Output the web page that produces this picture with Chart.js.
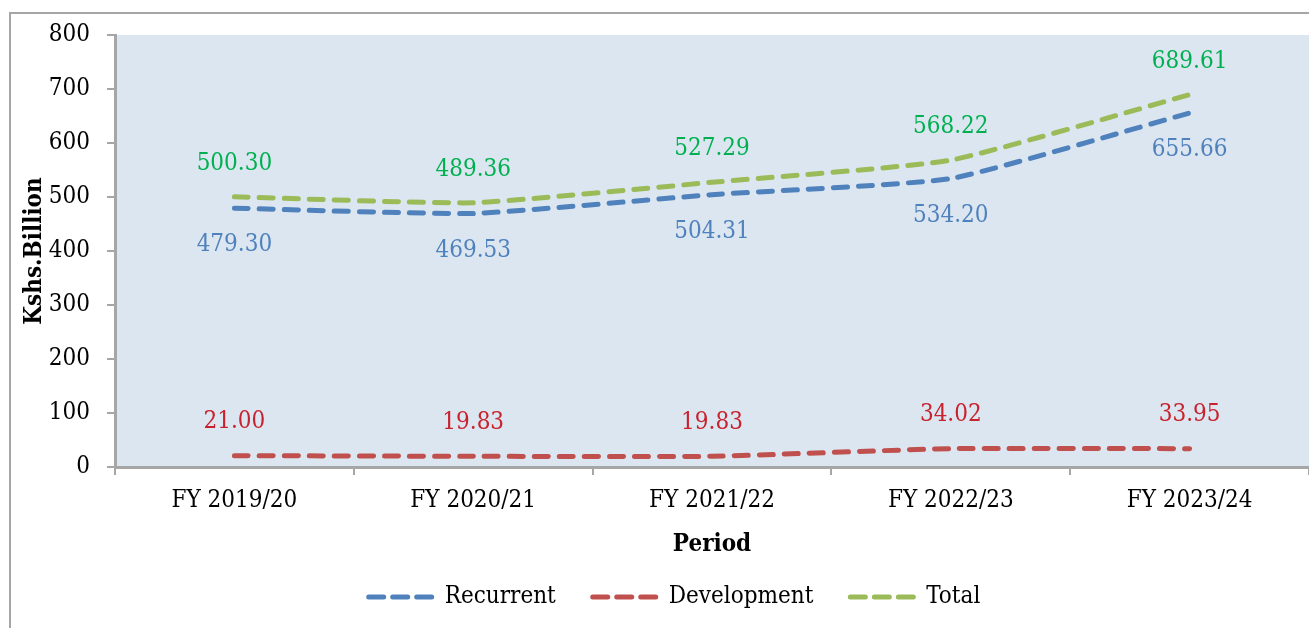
<!DOCTYPE html>
<html>
<head>
<meta charset="utf-8">
<script src="https://cdn.jsdelivr.net/npm/chart.js@4.4.1/dist/chart.umd.min.js"></script>
<style>
  html, body { margin: 0; padding: 0; background: #fff; overflow: hidden; }
  #frame { position: absolute; left: 9px; top: 12px; width: 1400px; height: 700px; border: 2px solid #a6a6a6; }
  #wrap { position: absolute; left: 0; top: 0; width: 1309px; height: 628px; }
</style>
</head>
<body>
<div id="frame"></div>
<div id="wrap"><canvas id="spendChart"></canvas></div>
<script>
// Data
const periods = ['FY 2019/20', 'FY 2020/21', 'FY 2021/22', 'FY 2022/23', 'FY 2023/24'];
const recurrent = [479.30, 469.53, 504.31, 534.20, 655.66];
const development = [21.00, 19.83, 19.83, 34.02, 33.95];
const total = [500.30, 489.36, 527.29, 568.22, 689.61];

// Styles
const fontFamily = "'DejaVu Serif Condensed', 'DejaVu Serif', serif";
const fontSize = 24;
const lineWidth = 5;
const lineDash = [14, 11];
const plotBg = '#dce6f0';
const axisGrey = '#a6a6a6';

Chart.defaults.font.family = fontFamily;
Chart.defaults.font.size = fontSize;
Chart.defaults.color = '#000';

// Fill the plot area
const plotBackground = {
  id: 'plotBackground',
  beforeDraw(chart) {
    const {ctx, chartArea: a} = chart;
    ctx.save();
    ctx.fillStyle = plotBg;
    ctx.fillRect(a.left, a.top, a.right - a.left, a.bottom - a.top);
    ctx.restore();
  }
};

// nudge legend a bit right, like the original
const legendShift = {
  id: 'legendShift',
  afterLayout(chart) {
    if (chart.legend) chart.legend.left += 28;
  }
};

// Value labels next to each point
const valueLabels = {
  id: 'valueLabels',
  afterDatasetsDraw(chart) {
    const {ctx} = chart;
    ctx.save();
    ctx.font = fontSize + 'px ' + fontFamily;
    ctx.textAlign = 'center';
    ctx.textBaseline = 'middle';
    chart.data.datasets.forEach((ds, i) => {
      const meta = chart.getDatasetMeta(i);
      ctx.fillStyle = ds.labelColor;
      meta.data.forEach((pt, j) => {
        ctx.fillText(ds.data[j].toFixed(2), pt.x, pt.y + ds.labelOffset);
      });
    });
    ctx.restore();
  }
};

const lineSet = (label, data, color, labelColor, labelOffset) => ({
  label,
  data,
  borderColor: color,
  backgroundColor: color,
  borderWidth: lineWidth,
  borderDash: lineDash,
  borderCapStyle: 'round',
  tension: 0.15,
  pointRadius: 0,
  fill: false,
  labelColor,
  labelOffset
});

const spendChart = new Chart(document.getElementById('spendChart'), {
  type: 'line',
  data: {
    labels: periods,
    datasets: [
      lineSet('Recurrent', recurrent, '#4f81bd', '#4f81bd', 37),
      lineSet('Development', development, '#c0504d', '#c8222e', -34),
      lineSet('Total', total, '#9bbb59', '#00b050', -33)
    ]
  },
  options: {
    responsive: true,
    maintainAspectRatio: false,
    animation: false,
    layout: { padding: { left: 12, top: 35, right: 0, bottom: 9 } },
    plugins: {
      tooltip: { enabled: false },
      legend: {
        position: 'bottom',
        labels: {
          usePointStyle: true,
          pointStyle: 'line',
          pointStyleWidth: 64,
          padding: 37,
          color: '#000',
          font: { size: fontSize },
          generateLabels(chart) {
            return Chart.defaults.plugins.legend.labels.generateLabels(chart).map(item => {
              item.lineDash = [15, 9];
              item.lineCap = 'round';
              item.lineWidth = lineWidth;
              return item;
            });
          }
        }
      }
    },
    scales: {
      x: {
        offset: true,
        grid: { offset: true, drawOnChartArea: false, tickLength: 8, color: axisGrey, lineWidth: 2 },
        border: { color: axisGrey, width: 3 },
        ticks: { padding: 11, maxRotation: 0 },
        title: { display: true, text: 'Period', font: { size: fontSize, weight: 'bold' }, padding: { top: 4, bottom: -11 } },
        afterFit(scale) { scale.height = 81; }
      },
      y: {
        min: 0,
        max: 800,
        ticks: { stepSize: 100, padding: 17 },
        grid: { drawOnChartArea: false, tickLength: 8, color: axisGrey, lineWidth: 2 },
        border: { color: axisGrey, width: 3 },
        title: { display: true, text: 'Kshs.Billion', font: { size: fontSize, weight: 'bold' }, padding: { top: 8, bottom: 0 } },
        afterFit(scale) { scale.width = 103; }
      }
    }
  },
  plugins: [plotBackground, legendShift, valueLabels]
});
</script>
</body>
</html>
